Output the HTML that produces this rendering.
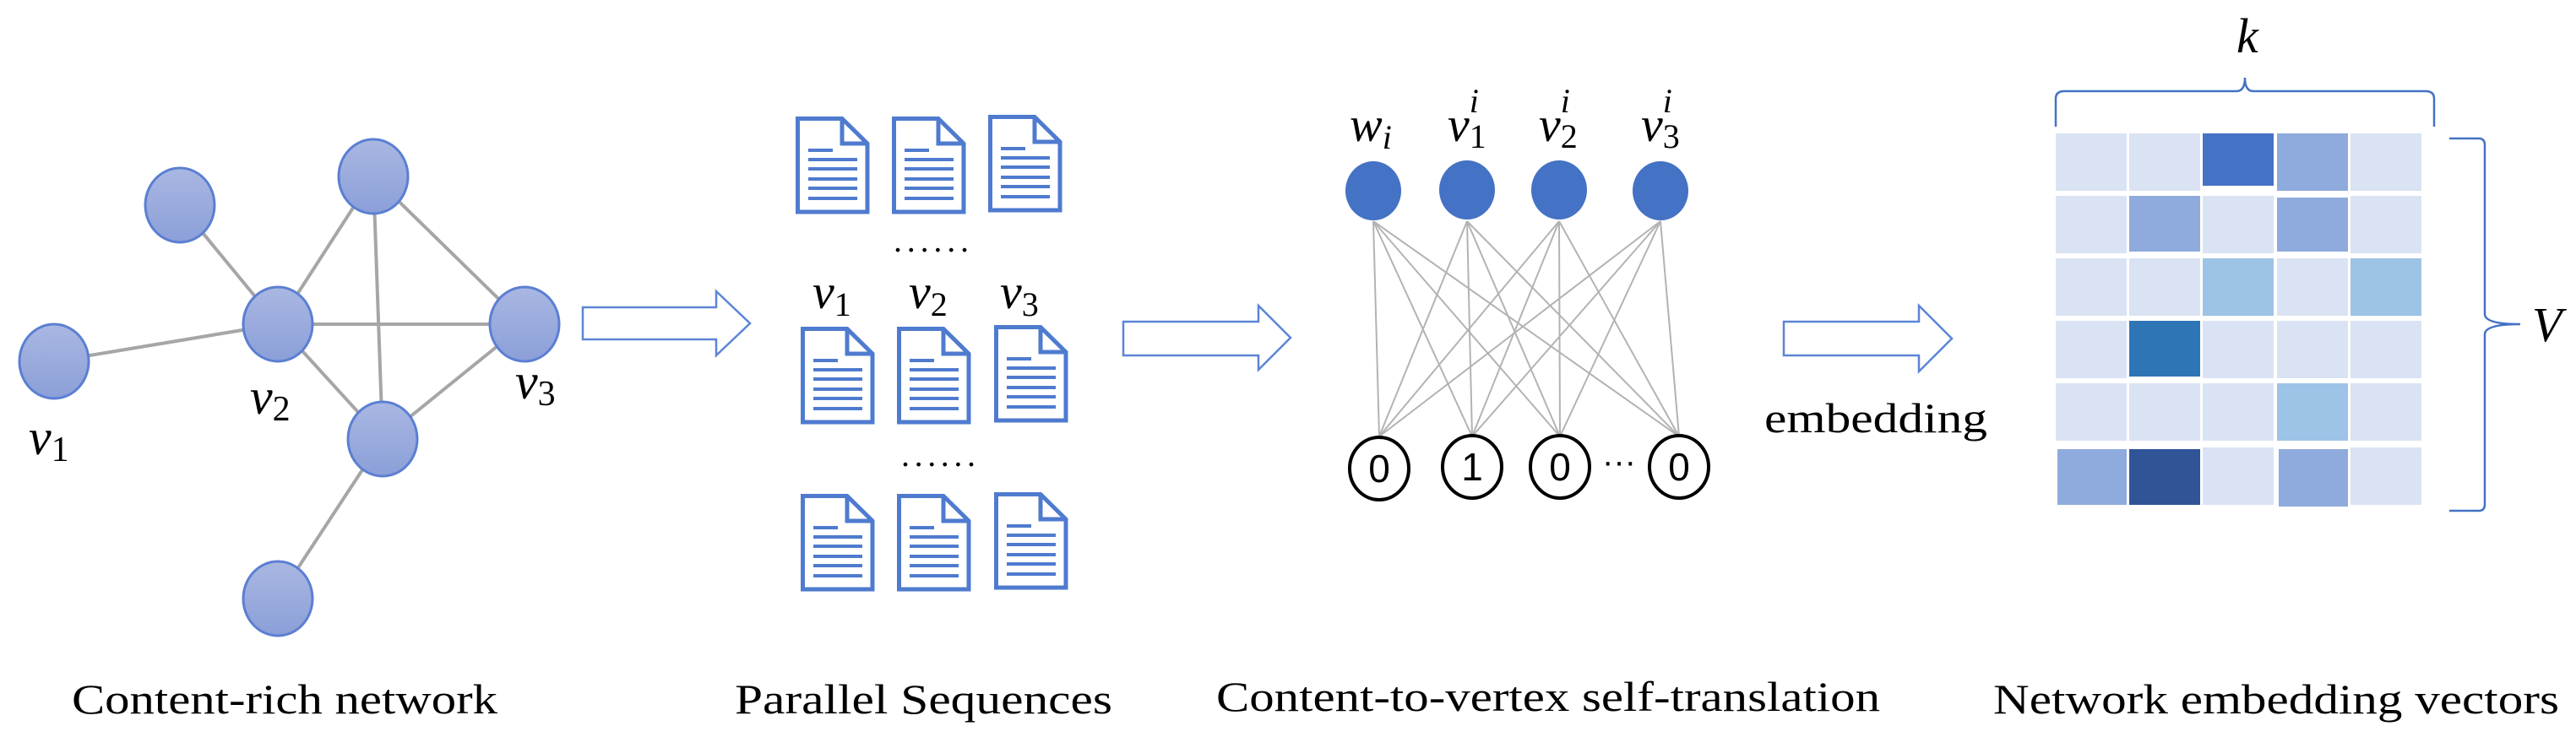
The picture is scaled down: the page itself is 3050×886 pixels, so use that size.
<!DOCTYPE html>
<html><head><meta charset="utf-8"><style>
html,body{margin:0;padding:0;background:#fff;}
svg{display:block;}
.cap{font-family:"Liberation Serif",serif;font-size:50px;fill:#000;}
.m{font-family:"Liberation Serif",serif;font-style:italic;fill:#000;}
</style></head><body>
<svg width="3050" height="886" viewBox="0 0 3050 886" xmlns="http://www.w3.org/2000/svg">
<defs>
<linearGradient id="g" x1="0" y1="0" x2="0" y2="1"><stop offset="0" stop-color="#a9b7e2"/><stop offset="1" stop-color="#8b9fd8"/></linearGradient>
<g id="doc">
<path d="M2.5 2.5 H55 L85 32 V113 H2.5 Z" fill="#fff" stroke="#4f7bcf" stroke-width="5"/>
<path d="M55 2.5 V32 H85" fill="none" stroke="#4f7bcf" stroke-width="5"/>
<g stroke="#4f7bcf" stroke-width="4"><line x1="15" y1="40" x2="44" y2="40"/><line x1="15" y1="51" x2="73" y2="51"/><line x1="15" y1="62" x2="73" y2="62"/><line x1="15" y1="74" x2="73" y2="74"/><line x1="15" y1="85" x2="73" y2="85"/><line x1="15" y1="97" x2="73" y2="97"/></g>
</g>
</defs>
<!-- graph edges -->
<g stroke="#a6a6a6" stroke-width="4">
<line x1="213" y1="243" x2="329" y2="384"/>
<line x1="64" y1="428" x2="329" y2="384"/>
<line x1="329" y1="384" x2="442" y2="209"/>
<line x1="329" y1="384" x2="621" y2="384"/>
<line x1="442" y1="209" x2="621" y2="384"/>
<line x1="442" y1="209" x2="453" y2="520"/>
<line x1="329" y1="384" x2="453" y2="520"/>
<line x1="621" y1="384" x2="453" y2="520"/>
<line x1="453" y1="520" x2="329" y2="709"/>
</g>
<g fill="url(#g)" stroke="#5b7fd2" stroke-width="3">
<ellipse cx="213" cy="243" rx="41" ry="44"/>
<ellipse cx="442" cy="209" rx="41" ry="44"/>
<ellipse cx="329" cy="384" rx="41" ry="44"/>
<ellipse cx="621" cy="384" rx="41" ry="44"/>
<ellipse cx="64" cy="428" rx="41" ry="44"/>
<ellipse cx="453" cy="520" rx="41" ry="44"/>
<ellipse cx="329" cy="709" rx="41" ry="44"/>
</g>
<text class="m" x="296" y="490" font-size="60">v<tspan font-style="normal" font-size="42" dy="8">2</tspan></text>
<text class="m" x="610" y="472" font-size="60">v<tspan font-style="normal" font-size="42" dy="8">3</tspan></text>
<text class="m" x="34" y="538" font-size="60">v<tspan font-style="normal" font-size="42" dy="8">1</tspan></text>
<text class="cap" x="85" y="845" textLength="504" lengthAdjust="spacingAndGlyphs">Content-rich network</text>
<!-- arrows -->
<g fill="#fff" stroke="#5b85d6" stroke-width="2.5">
<path d="M690 364 H848 V345 L888 383 L848 421 V402 H690 Z"/>
<path d="M1330 381 H1490 V362 L1528 400 L1490 438 V421 H1330 Z"/>
<path d="M2112 381 H2272 V362 L2311 401 L2272 440 V421 H2112 Z"/>
</g>
<!-- docs -->
<use href="#doc" x="942" y="138"/><use href="#doc" x="1056" y="138"/><use href="#doc" x="1170" y="136"/>
<use href="#doc" x="948" y="387"/><use href="#doc" x="1062" y="387"/><use href="#doc" x="1177" y="385"/>
<use href="#doc" x="948" y="585"/><use href="#doc" x="1062" y="585"/><use href="#doc" x="1177" y="583"/>
<text x="1058" y="298" font-family="Liberation Serif" font-size="40" textLength="89" lengthAdjust="spacing">......</text>
<text x="1067" y="552" font-family="Liberation Serif" font-size="40" textLength="88" lengthAdjust="spacing">......</text>
<text class="m" x="962" y="365" font-size="58">v<tspan font-style="normal" font-size="40" dy="9">1</tspan></text>
<text class="m" x="1076" y="365" font-size="58">v<tspan font-style="normal" font-size="40" dy="9">2</tspan></text>
<text class="m" x="1184" y="365" font-size="58">v<tspan font-style="normal" font-size="40" dy="9">3</tspan></text>
<text class="cap" x="870" y="845" textLength="447" lengthAdjust="spacingAndGlyphs">Parallel Sequences</text>
<!-- neural -->
<g stroke="#b3b3b3" stroke-width="2">
<line x1="1626" y1="262" x2="1633" y2="517"/><line x1="1626" y1="262" x2="1743" y2="517"/><line x1="1626" y1="262" x2="1847" y2="517"/><line x1="1626" y1="262" x2="1988" y2="517"/>
<line x1="1737" y1="262" x2="1633" y2="517"/><line x1="1737" y1="262" x2="1743" y2="517"/><line x1="1737" y1="262" x2="1847" y2="517"/><line x1="1737" y1="262" x2="1988" y2="517"/>
<line x1="1846" y1="262" x2="1633" y2="517"/><line x1="1846" y1="262" x2="1743" y2="517"/><line x1="1846" y1="262" x2="1847" y2="517"/><line x1="1846" y1="262" x2="1988" y2="517"/>
<line x1="1966" y1="262" x2="1633" y2="517"/><line x1="1966" y1="262" x2="1743" y2="517"/><line x1="1966" y1="262" x2="1847" y2="517"/><line x1="1966" y1="262" x2="1988" y2="517"/>
</g>
<g fill="#4472c4">
<ellipse cx="1626" cy="226" rx="33" ry="35"/><ellipse cx="1737" cy="225" rx="33" ry="35"/><ellipse cx="1846" cy="225" rx="33" ry="35"/><ellipse cx="1966" cy="226" rx="33" ry="35"/>
</g>
<g fill="#fff" stroke="#000" stroke-width="4">
<ellipse cx="1633" cy="555" rx="35" ry="37"/><ellipse cx="1743" cy="553" rx="35" ry="37"/><ellipse cx="1847" cy="553" rx="35" ry="37"/><ellipse cx="1988" cy="553" rx="35" ry="37"/>
</g>
<g font-family="Liberation Sans,sans-serif" font-size="46" text-anchor="middle" fill="#000">
<text x="1633" y="571">0</text><text x="1743" y="569">1</text><text x="1847" y="569">0</text><text x="1988" y="569">0</text>
</g>
<text x="1917" y="560" font-family="Liberation Sans" font-size="40" text-anchor="middle">···</text>
<text class="m" x="1598" y="167" font-size="58">w<tspan font-size="40" dy="9">i</tspan></text>
<text class="m" x="1714" y="167" font-size="58">v<tspan font-style="normal" font-size="40" dy="8">1</tspan><tspan font-size="40" dx="-20" dy="-42">i</tspan></text>
<text class="m" x="1822" y="167" font-size="58">v<tspan font-style="normal" font-size="40" dy="8">2</tspan><tspan font-size="40" dx="-20" dy="-42">i</tspan></text>
<text class="m" x="1943" y="167" font-size="58">v<tspan font-style="normal" font-size="40" dy="8">3</tspan><tspan font-size="40" dx="-20" dy="-42">i</tspan></text>
<text class="cap" x="2089" y="512" textLength="264" lengthAdjust="spacingAndGlyphs">embedding</text>
<text class="cap" x="1440" y="842" textLength="786" lengthAdjust="spacingAndGlyphs">Content-to-vertex self-translation</text>
<!-- matrix -->
<g>
<rect x="2432" y="157" width="450" height="443" fill="#fff"/>
<g fill="#dae3f3">
<rect x="2434" y="158" width="84" height="68"/><rect x="2521" y="158" width="84" height="68"/><rect x="2696" y="158" width="84" height="68"/><rect x="2783" y="158" width="84" height="68"/>
<rect x="2434" y="232" width="84" height="68"/><rect x="2608" y="232" width="84" height="68"/><rect x="2783" y="232" width="84" height="68"/>
<rect x="2434" y="306" width="84" height="68"/><rect x="2521" y="306" width="84" height="68"/><rect x="2696" y="306" width="84" height="68"/>
<rect x="2434" y="380" width="84" height="68"/><rect x="2608" y="380" width="84" height="68"/><rect x="2696" y="380" width="84" height="68"/><rect x="2783" y="380" width="84" height="68"/>
<rect x="2434" y="454" width="84" height="68"/><rect x="2521" y="454" width="84" height="68"/><rect x="2608" y="454" width="84" height="68"/><rect x="2783" y="454" width="84" height="68"/>
<rect x="2608" y="530" width="84" height="68"/><rect x="2783" y="530" width="84" height="68"/>
</g>
<rect x="2608" y="158" width="84" height="62" fill="#4472c4"/>
<rect x="2696" y="158" width="84" height="68" fill="#8faadc"/>
<rect x="2521" y="232" width="84" height="66" fill="#8faadc"/>
<rect x="2696" y="234" width="84" height="64" fill="#8faadc"/>
<rect x="2608" y="306" width="84" height="68" fill="#9dc3e6"/>
<rect x="2783" y="306" width="84" height="68" fill="#9dc3e6"/>
<rect x="2521" y="380" width="84" height="66" fill="#2e75b6"/>
<rect x="2696" y="454" width="84" height="68" fill="#9dc3e6"/>
<rect x="2436" y="532" width="82" height="66" fill="#8faadc"/>
<rect x="2521" y="532" width="84" height="66" fill="#2f5597"/>
<rect x="2698" y="532" width="82" height="68" fill="#8faadc"/>
</g>
<path d="M2434 150 V117 Q2434 108 2444 108 H2648 Q2658 108 2658 92 Q2658 108 2668 108 H2872 Q2882 108 2882 117 V150" fill="none" stroke="#4472c4" stroke-width="2.5"/>
<path d="M2900 164 H2935 Q2942 164 2942 172 V372 Q2942 384 2984 384 Q2942 384 2942 396 V597 Q2942 605 2935 605 H2900" fill="none" stroke="#4472c4" stroke-width="2.5"/>
<text class="m" x="2648" y="62" font-size="58">k</text>
<text class="m" x="2998" y="404" font-size="58">V</text>
<text class="cap" x="2360" y="845" textLength="670" lengthAdjust="spacingAndGlyphs">Network embedding vectors</text>
</svg>
</body></html>
